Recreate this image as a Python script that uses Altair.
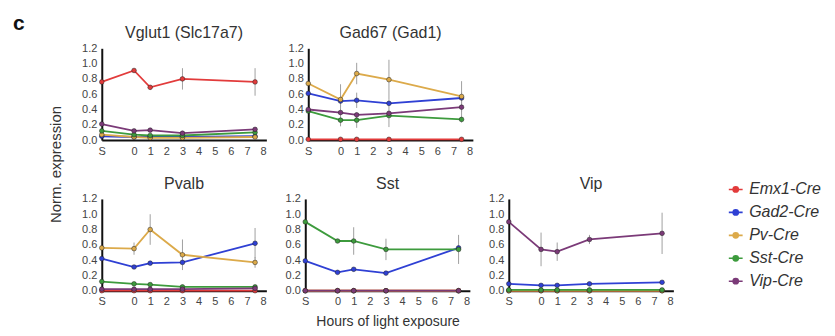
import altair as alt
import pandas as pd

# x positions: -2 stands for "S" (sleep / before light)
HOURS = [-2, 0, 1, 3, 7.5]
TICKS = [-2, 0, 1, 2, 3, 4, 5, 6, 7, 8]
SERIES = ["Emx1-Cre", "Gad2-Cre", "Pv-Cre", "Sst-Cre", "Vip-Cre"]
COLORS = ["#e23b3b", "#2f40d4", "#dcaa4a", "#3d9b3d", "#7b3a78"]

VGLUT1_MEAN = {
    "Emx1-Cre": [0.76, 0.91, 0.69, 0.80, 0.76],
    "Gad2-Cre": [0.05, 0.04, 0.04, 0.04, 0.05],
    "Pv-Cre": [0.07, 0.04, 0.03, 0.03, 0.04],
    "Sst-Cre": [0.12, 0.07, 0.06, 0.06, 0.10],
    "Vip-Cre": [0.21, 0.12, 0.13, 0.09, 0.14],
}
VGLUT1_ERR = {
    "Emx1-Cre": [0.02, 0.03, 0.03, 0.14, 0.18],
    "Gad2-Cre": [0.0, 0.0, 0.0, 0.0, 0.0],
    "Pv-Cre": [0.0, 0.0, 0.0, 0.0, 0.0],
    "Sst-Cre": [0.0, 0.0, 0.0, 0.0, 0.0],
    "Vip-Cre": [0.0, 0.0, 0.0, 0.0, 0.0],
}

GAD67_MEAN = {
    "Emx1-Cre": [0.01, 0.01, 0.01, 0.01, 0.01],
    "Gad2-Cre": [0.61, 0.51, 0.52, 0.48, 0.55],
    "Pv-Cre": [0.74, 0.53, 0.87, 0.79, 0.57],
    "Sst-Cre": [0.38, 0.26, 0.26, 0.32, 0.27],
    "Vip-Cre": [0.40, 0.36, 0.33, 0.35, 0.43],
}
GAD67_ERR = {
    "Emx1-Cre": [0.0, 0.0, 0.0, 0.0, 0.0],
    "Gad2-Cre": [0.0, 0.08, 0.10, 0.0, 0.0],
    "Pv-Cre": [0.0, 0.2, 0.14, 0.26, 0.2],
    "Sst-Cre": [0.0, 0.08, 0.1, 0.0, 0.0],
    "Vip-Cre": [0.0, 0.0, 0.0, 0.18, 0.2],
}

PVALB_MEAN = {
    "Emx1-Cre": [0.0, 0.0, 0.0, 0.0, 0.0],
    "Gad2-Cre": [0.42, 0.31, 0.36, 0.37, 0.62],
    "Pv-Cre": [0.56, 0.55, 0.80, 0.47, 0.37],
    "Sst-Cre": [0.12, 0.09, 0.08, 0.05, 0.05],
    "Vip-Cre": [0.02, 0.02, 0.02, 0.02, 0.03],
}
PVALB_ERR = {
    "Emx1-Cre": [0.0, 0.0, 0.0, 0.0, 0.0],
    "Gad2-Cre": [0.0, 0.0, 0.0, 0.0, 0.2],
    "Pv-Cre": [0.0, 0.08, 0.2, 0.2, 0.07],
    "Sst-Cre": [0.0, 0.0, 0.0, 0.0, 0.0],
    "Vip-Cre": [0.0, 0.0, 0.0, 0.0, 0.0],
}

SST_MEAN = {
    "Emx1-Cre": [0.0, 0.0, 0.0, 0.0, 0.0],
    "Gad2-Cre": [0.39, 0.24, 0.28, 0.23, 0.56],
    "Pv-Cre": [0.0, 0.0, 0.0, 0.0, 0.0],
    "Sst-Cre": [0.90, 0.65, 0.65, 0.54, 0.54],
    "Vip-Cre": [0.0, 0.0, 0.0, 0.0, 0.0],
}
SST_ERR = {
    "Emx1-Cre": [0.0, 0.0, 0.0, 0.0, 0.0],
    "Gad2-Cre": [0.0, 0.0, 0.0, 0.0, 0.0],
    "Pv-Cre": [0.0, 0.0, 0.0, 0.0, 0.0],
    "Sst-Cre": [0.0, 0.0, 0.18, 0.14, 0.19],
    "Vip-Cre": [0.0, 0.0, 0.0, 0.0, 0.0],
}

VIP_MEAN = {
    "Emx1-Cre": [0.0, 0.0, 0.0, 0.0, 0.0],
    "Gad2-Cre": [0.09, 0.07, 0.07, 0.09, 0.11],
    "Pv-Cre": [0.0, 0.0, 0.0, 0.0, 0.0],
    "Sst-Cre": [0.01, 0.01, 0.01, 0.01, 0.01],
    "Vip-Cre": [0.90, 0.54, 0.51, 0.67, 0.75],
}
VIP_ERR = {
    "Emx1-Cre": [0.0, 0.0, 0.0, 0.0, 0.0],
    "Gad2-Cre": [0.0, 0.0, 0.0, 0.0, 0.0],
    "Pv-Cre": [0.0, 0.0, 0.0, 0.0, 0.0],
    "Sst-Cre": [0.0, 0.0, 0.0, 0.0, 0.0],
    "Vip-Cre": [0.0, 0.22, 0.12, 0.06, 0.27],
}

FONT = "Liberation Sans"
W, H = 165, 92
LEGEND_SYMBOL = ("M-0.8,0L0.8,0 M-0.3,0 a0.3,0.3 0 1,0 0.6,0 "
                 "a0.3,0.3 0 1,0 -0.6,0")

LEGEND = alt.Legend(title=None, orient="none", legendX=626, legendY=132,
                    symbolType=LEGEND_SYMBOL, symbolSize=300,
                    symbolStrokeWidth=1.6, labelFont=FONT,
                    labelFontSize=16, labelFontStyle="italic",
                    labelColor="#333", rowPadding=5, labelOffset=4)
COLOR = alt.Color("series:N", scale=alt.Scale(domain=SERIES, range=COLORS),
                  legend=LEGEND, sort=SERIES)


def panel(title, means, errs, xtitle=None, ytitle=None):
    rows = []
    for s in SERIES:
        for h, m, e in zip(HOURS, means[s], errs[s]):
            rows.append({"series": s, "hour": h, "mean": m,
                         "lo": max(m - e, 0), "hi": m + e, "err": e})
    df = pd.DataFrame(rows)

    xaxis = dict(values=TICKS,
                 labelExpr="datum.value == -2 ? 'S' : datum.value",
                 grid=False, ticks=False, labelOverlap=False,
                 labelFlush=False)
    if xtitle:
        xaxis["title"] = xtitle
        xaxis["titlePadding"] = 8
    else:
        xaxis["title"] = ""
    yaxis = dict(values=[0, 0.2, 0.4, 0.6, 0.8, 1.0, 1.2], format=".1f",
                 grid=False, ticks=False, labelOverlap=False,
                 labelFlush=False)
    if ytitle:
        yaxis["title"] = ytitle
        yaxis["titleY"] = 116
        yaxis["titleX"] = -38
        yaxis["titleAlign"] = "center"
        yaxis["titleBaseline"] = "bottom"
        yaxis["titleFontSize"] = 15
    else:
        yaxis["title"] = ""

    x = alt.X("hour:Q", scale=alt.Scale(domain=[-2, 8.2], nice=False, zero=False),
              axis=alt.Axis(**xaxis))
    y = alt.Y("mean:Q", scale=alt.Scale(domain=[0, 1.2], nice=False),
              axis=alt.Axis(**yaxis))
    ylo = alt.Y("lo:Q", scale=alt.Scale(domain=[0, 1.2], nice=False),
                axis=alt.Axis(**yaxis))

    base = alt.Chart(df)
    err = base.transform_filter("datum.err > 0.001").mark_rule(
        color="#a0a0a0", strokeWidth=1).encode(
        x=x, y=ylo, y2="hi:Q")
    line = base.mark_line(strokeWidth=1.8).encode(
        x=x, y=y, color=COLOR, order="hour:Q")
    pts = base.mark_circle(size=22, opacity=1, stroke="#222",
                           strokeWidth=0.5).encode(
        x=x, y=y, color=COLOR)
    return alt.layer(err, line, pts).properties(
        width=W, height=H,
        title=alt.TitleParams(title, fontSize=16, font=FONT, fontWeight="normal",
                              color="#333", offset=1))


p1 = panel("Vglut1 (Slc17a7)", VGLUT1_MEAN, VGLUT1_ERR, ytitle="Norm. expression")
p2 = panel("Gad67 (Gad1)", GAD67_MEAN, GAD67_ERR)
p3 = panel("Pvalb", PVALB_MEAN, PVALB_ERR)
p4 = panel("Sst", SST_MEAN, SST_ERR, xtitle="Hours of light exposure")
p5 = panel("Vip", VIP_MEAN, VIP_ERR)

top = alt.hconcat(p1, p2, spacing=42, bounds="flush")
bottom = alt.hconcat(p3, p4, p5, spacing=39, bounds="flush")

chart = alt.vconcat(top, bottom, spacing=151, bounds="flush").properties(
    title=alt.TitleParams("c", anchor="start", dx=-36, fontSize=21,
                          fontWeight="bold", font=FONT, color="#111", offset=-9)
).configure_view(stroke=None).configure_axis(
    domainColor="#111", domainWidth=2, labelFont=FONT, labelFontSize=11,
    labelColor="#444", labelPadding=5, titleFont=FONT, titleFontSize=14,
    titleFontWeight="normal", titleColor="#333"
)

chart.save("out.html", embed_options={"renderer": "svg", "actions": False})
